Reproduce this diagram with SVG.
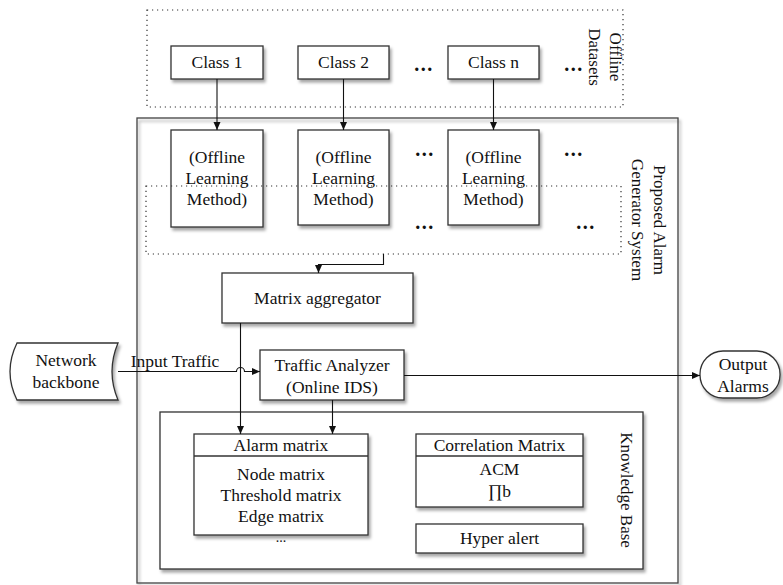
<svg xmlns="http://www.w3.org/2000/svg" width="783" height="585" viewBox="0 0 783 585">
  <defs>
    <filter id="shadow" x="-10%" y="-10%" width="130%" height="140%">
      <feDropShadow dx="2" dy="3" stdDeviation="1.5" flood-color="#000" flood-opacity="0.35"/>
    </filter>
    <marker id="arrow" markerUnits="userSpaceOnUse" markerWidth="9" markerHeight="8" refX="8" refY="3.5" orient="auto">
      <path d="M0,0 L8,3.5 L0,7 z" fill="#111"/>
    </marker>
  </defs>
  <style>
    .box { fill: #fff; stroke: #333; stroke-width: 1.3; }
    .shadowed { filter: url(#shadow); }
    .frame { fill: none; stroke: #444; stroke-width: 1.3; }
    .dotted { fill: none; stroke: #333; stroke-width: 1.2; stroke-dasharray: 1.2 3.8; }
    .wire { fill: none; stroke: #111; stroke-width: 1.1; }
    text { font-family: "Liberation Serif", "Times New Roman", serif; font-size: 17.5px; fill: #111; text-anchor: middle; }
    .vlabel { font-size: 17px; }
    .dots { font-weight: bold; font-size: 20px; letter-spacing: 1.5px; }
  </style>

  <rect width="783" height="585" fill="#fff"/>

  <!-- Offline datasets group -->
  <g id="offline-datasets">
    <rect class="dotted" x="147" y="10" width="476" height="97"/>
    <g transform="translate(605,57) rotate(90)">
      <text class="vlabel" x="0" y="-5">Offline</text>
      <text class="vlabel" x="0" y="16">Datasets</text>
    </g>
    <text class="dots" x="424" y="71">...</text>
    <text class="dots" x="574" y="71">...</text>
  </g>

  <g id="class-1">
    <rect class="box shadowed" x="171" y="46" width="92" height="33"/>
    <text x="217" y="68">Class 1</text>
  </g>
  <g id="class-2">
    <rect class="box shadowed" x="298" y="46" width="91" height="33"/>
    <text x="343.5" y="68">Class 2</text>
  </g>
  <g id="class-n">
    <rect class="box shadowed" x="448" y="46" width="91" height="33"/>
    <text x="493.5" y="68">Class n</text>
  </g>

  <!-- Proposed alarm generator system frame -->
  <g id="alarm-generator-system">
    <rect class="frame shadowed" x="137" y="118" width="541" height="465" fill="none"/>
    <g transform="translate(640,220) rotate(90)">
      <text class="vlabel" x="0" y="-13.5">Proposed Alarm</text>
      <text class="vlabel" x="0" y="8">Generator System</text>
    </g>
  </g>

  <g id="learning-1">
    <rect class="box shadowed" x="171" y="130" width="92" height="97"/>
    <text x="217" y="163">(Offline</text>
    <text x="217" y="184">Learning</text>
    <text x="217" y="205">Method)</text>
  </g>
  <g id="learning-2">
    <rect class="box shadowed" x="298" y="130" width="91" height="95"/>
    <text x="343.5" y="163">(Offline</text>
    <text x="343.5" y="184">Learning</text>
    <text x="343.5" y="205">Method)</text>
  </g>
  <g id="learning-n">
    <rect class="box shadowed" x="448" y="130" width="91" height="95"/>
    <text x="493.5" y="163">(Offline</text>
    <text x="493.5" y="184">Learning</text>
    <text x="493.5" y="205">Method)</text>
  </g>
  <g id="learning-dots">
    <text class="dots" x="425" y="156">...</text>
    <text class="dots" x="574" y="156">...</text>
    <text class="dots" x="425" y="229">...</text>
    <text class="dots" x="586" y="229">...</text>
  </g>

  <g id="learning-outputs">
    <rect class="dotted" x="146" y="186" width="475" height="68"/>
  </g>

  <g id="matrix-aggregator">
    <rect class="box shadowed" x="222" y="273" width="191" height="50"/>
    <text x="317.5" y="304">Matrix aggregator</text>
  </g>

  <g id="traffic-analyzer">
    <rect class="box shadowed" x="260" y="350" width="144" height="50"/>
    <text x="332" y="371">Traffic Analyzer</text>
    <text x="332" y="393">(Online IDS)</text>
  </g>

  <g id="network-backbone">
    <path class="box shadowed" d="M17,343 L118,343 Q106,371.5 118,400 L17,400 Q3,371.5 17,343 Z"/>
    <text x="66" y="366">Network</text>
    <text x="66" y="388">backbone</text>
  </g>

  <g id="output-alarms">
    <rect class="box shadowed" x="700" y="351" width="80" height="47" rx="23" ry="23"/>
    <text x="743" y="370">Output</text>
    <text x="743" y="392">Alarms</text>
  </g>

  <!-- Knowledge base -->
  <g id="knowledge-base">
    <rect class="box shadowed" x="160" y="412" width="483" height="157"/>
    <g transform="translate(620.5,490) rotate(90)">
      <text class="vlabel" x="0" y="0">Knowledge Base</text>
    </g>
  </g>

  <g id="alarm-matrix">
    <rect class="box shadowed" x="194" y="434" width="174" height="101"/>
    <line class="box" x1="194" y1="456" x2="368" y2="456"/>
    <text x="281" y="451">Alarm matrix</text>
    <text x="281" y="480">Node matrix</text>
    <text x="281" y="501">Threshold matrix</text>
    <text x="281" y="522">Edge matrix</text>
    <text x="281" y="542" style="font-size:14px">...</text>
  </g>

  <g id="correlation-matrix">
    <rect class="box shadowed" x="416" y="434" width="167" height="73"/>
    <line class="box" x1="416" y1="456" x2="583" y2="456"/>
    <text x="499.5" y="451">Correlation Matrix</text>
    <text x="499.5" y="475">ACM</text>
    <text x="499.5" y="497">∏b</text>
  </g>

  <g id="hyper-alert">
    <rect class="box shadowed" x="416" y="524" width="167" height="29"/>
    <text x="499.5" y="544">Hyper alert</text>
  </g>

  <!-- Connectors -->
  <g id="connectors">
    <line class="wire" x1="217" y1="79" x2="217" y2="130" marker-end="url(#arrow)"/>
    <line class="wire" x1="343.5" y1="79" x2="343.5" y2="130" marker-end="url(#arrow)"/>
    <line class="wire" x1="493.5" y1="79" x2="493.5" y2="130" marker-end="url(#arrow)"/>
    <polyline class="wire" points="383.5,254 383.5,264.5 318.5,264.5 318.5,273" marker-end="url(#arrow)"/>
    <line class="wire" x1="240.5" y1="323" x2="240.5" y2="434" marker-end="url(#arrow)"/>
    <line class="wire" x1="332.5" y1="400" x2="332.5" y2="434" marker-end="url(#arrow)"/>
    <path class="wire" d="M118,371.5 L236.5,371.5 A4,4 0 0 1 244.5,371.5 L260,371.5" marker-end="url(#arrow)"/>
    <text x="175" y="367">Input Traffic</text>
    <line class="wire" x1="404" y1="375.5" x2="700" y2="375.5" marker-end="url(#arrow)"/>
  </g>
</svg>
